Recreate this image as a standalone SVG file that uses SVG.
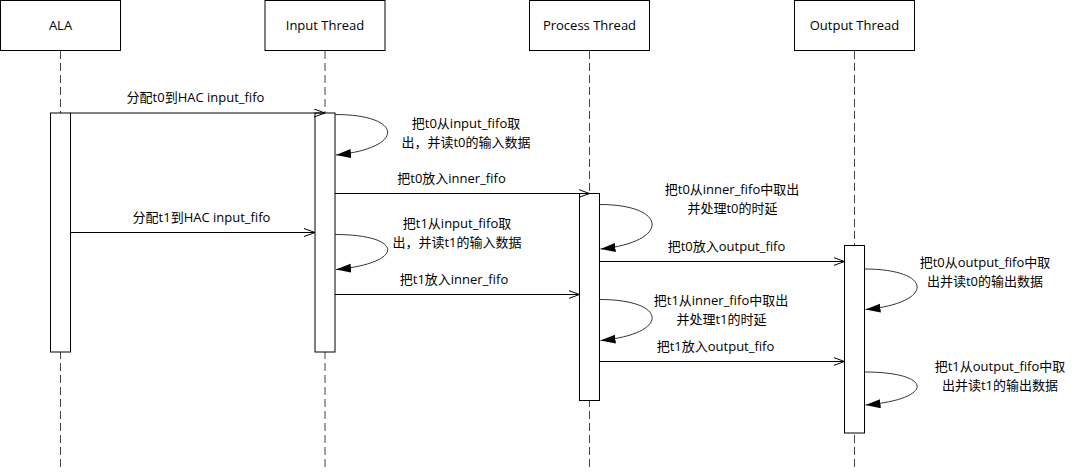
<svg xmlns="http://www.w3.org/2000/svg" width="1075" height="472" viewBox="0 0 1075 472">
<style>
.hdr{fill:#fff;stroke:#000;stroke-width:1}
.life{stroke:#444;stroke-width:1;stroke-dasharray:8 4;fill:none}
.bar{fill:#fff;stroke:#000;stroke-width:1}
.msg{stroke:#000;stroke-width:1;fill:none;marker-end:url(#open)}
.loop{stroke:#333;stroke-width:1;fill:none;marker-end:url(#solid)}
text{font-family:"Open Sans","Noto Sans CJK SC",sans-serif;font-size:13px;fill:#000;text-anchor:middle}
</style>
<defs>
<marker id="open" viewBox="0 0 12 10" refX="11" refY="4.5" markerWidth="12" markerHeight="10" markerUnits="userSpaceOnUse" orient="auto">
<path d="M0,0.5 L11,4.5 L0,8.5" fill="none" stroke="#000" stroke-width="1"/>
</marker>
<marker id="solid" viewBox="0 0 16 10" refX="15" refY="4.5" markerWidth="16" markerHeight="10" markerUnits="userSpaceOnUse" orient="auto">
<path d="M0,0 L15,4.5 L0,9 z" fill="#000"/>
</marker>
</defs>
<rect width="1075" height="472" fill="#fff"/>

<g id="lifelines">
<line class="life" x1="60.5" y1="51" x2="60.5" y2="468"/>
<line class="life" x1="325" y1="51" x2="325" y2="468"/>
<line class="life" x1="589.5" y1="51" x2="589.5" y2="468"/>
<line class="life" x1="854.5" y1="51" x2="854.5" y2="468"/>
</g>

<g id="ALA">
<rect class="hdr" x="0.5" y="0.5" width="120" height="50"/>
<text x="60.5" y="30">ALA</text>
<rect class="bar" x="50.5" y="113" width="20" height="239"/>
</g>
<g id="InputThread">
<rect class="hdr" x="265" y="0.5" width="120" height="50"/>
<text x="325" y="30">Input Thread</text>
<rect class="bar" x="315" y="113" width="20" height="239"/>
</g>
<g id="ProcessThread">
<rect class="hdr" x="529.5" y="0.5" width="120" height="50"/>
<text x="589.5" y="30">Process Thread</text>
<rect class="bar" x="579.5" y="193.5" width="20" height="207"/>
</g>
<g id="OutputThread">
<rect class="hdr" x="794.5" y="0.5" width="120" height="50"/>
<text x="854.5" y="30">Output Thread</text>
<rect class="bar" x="844.5" y="245.5" width="20" height="187.5"/>
</g>

<g id="connectors">
<line class="msg" x1="70.5" y1="113" x2="325" y2="113"/>
<line class="msg" x1="335" y1="193.5" x2="589.5" y2="193.5"/>
<line class="msg" x1="70.5" y1="232.5" x2="315" y2="232.5"/>
<line class="msg" x1="335" y1="294.5" x2="579.5" y2="294.5"/>
<line class="msg" x1="599.5" y1="261.5" x2="844.5" y2="261.5"/>
<line class="msg" x1="599.5" y1="361.5" x2="844.5" y2="361.5"/>

<path class="loop" d="M335,114.5 C404,114.5 406,148 336,155"/>
<path class="loop" d="M335,234.5 C404,234.5 406,263 336,269.5"/>
<path class="loop" d="M599.5,204.5 C668.5,204.5 670.5,242 600.5,249"/>
<path class="loop" d="M599.5,299.5 C668.5,299.5 670.5,334 600.5,340.5"/>
<path class="loop" d="M864.5,269 C933.5,269 935.5,303 865.5,309.5"/>
<path class="loop" d="M864.5,372 C933.5,372 935.5,399 865.5,405"/>
</g>

<g id="labels">
<text x="195.5" y="101.5">分配t0到HAC input_fifo</text>
<text x="201.5" y="222">分配t1到HAC input_fifo</text>
<text x="466" y="127.5">把t0从input_fifo取</text>
<text x="466" y="146.5">出，并读t0的输入数据</text>
<text x="451.5" y="183">把t0放入inner_fifo</text>
<text x="457" y="228">把t1从input_fifo取</text>
<text x="457" y="247">出，并读t1的输入数据</text>
<text x="454" y="284">把t1放入inner_fifo</text>
<text x="732" y="194">把t0从inner_fifo中取出</text>
<text x="732.5" y="213">并处理t0的时延</text>
<text x="726.5" y="250.5">把t0放入output_fifo</text>
<text x="721" y="304.5">把t1从inner_fifo中取出</text>
<text x="721.5" y="323.5">并处理t1的时延</text>
<text x="715.5" y="351">把t1放入output_fifo</text>
<text x="985" y="267">把t0从output_fifo中取</text>
<text x="985" y="286">出并读t0的输出数据</text>
<text x="1000" y="371">把t1从output_fifo中取</text>
<text x="1000" y="390">出并读t1的输出数据</text>
</g>
</svg>
